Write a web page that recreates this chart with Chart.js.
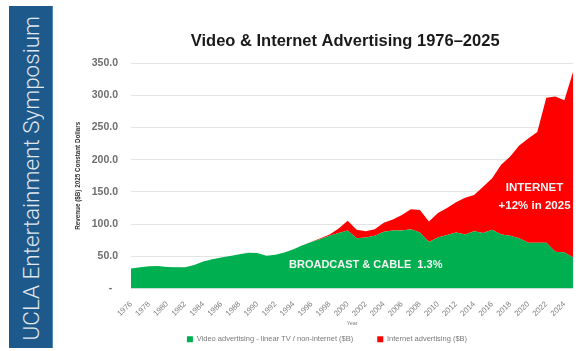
<!DOCTYPE html>
<html>
<head>
<meta charset="utf-8">
<script src="https://cdn.jsdelivr.net/npm/chart.js@4.4.1/dist/chart.umd.min.js"></script>
<style>
  html, body { margin: 0; padding: 0; background: #fff; }
  #wrap { position: relative; width: 583px; height: 351px; overflow: hidden; }
  #side {
    position: absolute; left: 9px; top: 6px; width: 43px; height: 342px;
    background: #1d5a8b; border-right: 1px solid #5286b4;
    display: flex; align-items: center; justify-content: center;
  }
  #side span {
    writing-mode: vertical-rl; transform: rotate(180deg);
    color: #e2e7ed; font: 300 22.5px Roboto, "Liberation Sans", Arial, sans-serif;
    white-space: nowrap; margin-top: 2px;
  }
  canvas { position: absolute; left: 0; top: 0; }
</style>
</head>
<body>
<div id="wrap">
  <canvas id="chart" width="583" height="351"></canvas>
  <div id="side"><span>UCLA Entertainment Symposium</span></div>
</div>
<script>
// values, $B in 2025 constant dollars
const years = [
  1976, 1977, 1978, 1979, 1980, 1981, 1982, 1983, 1984, 1985,
  1986, 1987, 1988, 1989, 1990, 1991, 1992, 1993, 1994, 1995,
  1996, 1997, 1998, 1999, 2000, 2001, 2002, 2003, 2004, 2005,
  2006, 2007, 2008, 2009, 2010, 2011, 2012, 2013, 2014, 2015,
  2016, 2017, 2018, 2019, 2020, 2021, 2022, 2023, 2024, 2025
];
const videoAds = [
  31, 33, 34.5, 35, 33.5, 33, 33, 36.5, 42, 45.5,
  48, 50.5, 53, 55.5, 55, 51, 52.5, 56, 61, 67,
  72, 77, 82, 86, 90, 78, 79, 82, 88, 90,
  90, 92, 87, 72, 79, 83, 87, 84, 89, 86,
  91, 84, 82, 78, 71, 71, 71, 57, 56, 48
];
const internetAds = [
  0, 0, 0, 0, 0, 0, 0, 0, 0, 0,
  0, 0, 0, 0, 0, 0, 0, 0, 0, 0,
  0.5, 1, 2, 7, 15, 13, 10, 10, 14, 17,
  24, 31, 35, 32, 38, 42, 47, 57, 56, 72,
  80, 108, 123, 144, 162, 172, 225, 241, 236, 290
];
const yTicks = [0, 50, 100, 150, 200, 250, 300, 350];

const chartTitle = 'Video & Internet Advertising 1976\u20132025';
// callouts: text lines anchored at (year, value)
const callouts = [
  { lines: ['BROADCAST & CABLE  1.3%'], year: 2002, value: 36, size: 11 },
  { lines: ['INTERNET', '+12% in 2025'], year: 2020.7, value: 142, size: 11.5 }
];

const FONT = '"Liberation Sans", Arial, sans-serif';

// title and callouts drawn on top of the chart
const textPlugin = {
  id: 'texts',
  afterDatasetsDraw(chart) {
    const { ctx, chartArea, scales } = chart;
    ctx.save();
    ctx.textAlign = 'center';
    ctx.textBaseline = 'middle';
    ctx.fillStyle = '#1a1a1a';
    ctx.font = 'bold 16.5px ' + FONT;
    ctx.fillText(chartTitle, (chartArea.left + chartArea.right) / 2 - 7, 41);

    ctx.fillStyle = '#f4f4f4';
    callouts.forEach(c => {
      ctx.font = 'bold ' + c.size + 'px ' + FONT;
      const x = scales.x.getPixelForValue(c.year - years[0]);
      const y = scales.y.getPixelForValue(c.value);
      const lh = c.size * 1.55;
      c.lines.forEach((t, i) => {
        ctx.fillText(t, x, y + (i - (c.lines.length - 1) / 2) * lh);
      });
    });
    ctx.restore();
  }
};

new Chart(document.getElementById('chart'), {
  type: 'line',
  data: {
    labels: years,
    datasets: [
      {
        label: 'Video advertising - linear TV / non-internet ($B)',
        data: videoAds,
        backgroundColor: '#00b050',
        borderWidth: 0,
        pointRadius: 0,
        fill: 'origin'
      },
      {
        label: 'Internet advertising ($B)',
        data: internetAds,
        backgroundColor: '#ff0000',
        borderWidth: 0,
        pointRadius: 0,
        fill: '-1'
      }
    ]
  },
  options: {
    responsive: false,
    animation: false,
    devicePixelRatio: 1,
    layout: { padding: { left: 74, right: 3, top: 63, bottom: -2 } },
    plugins: {
      title: { display: false },
      tooltip: { enabled: false },
      legend: {
        position: 'bottom',
        labels: {
          boxWidth: 6,
          boxHeight: 6,
          padding: 9,
          color: '#7a7a7a',
          font: { family: FONT, size: 7.5 },
          // wider gap between the two entries
          generateLabels(chart) {
            const items = Chart.defaults.plugins.legend.labels.generateLabels(chart);
            items[0].text += '\u2003\u2003';
            return items;
          }
        }
      }
    },
    scales: {
      x: {
        grid: { display: false, drawOnChartArea: false },
        border: { display: false },
        ticks: {
          autoSkip: false,
          maxRotation: 45,
          minRotation: 45,
          padding: 3,
          color: '#808080',
          font: { family: FONT, size: 7.8 },
          callback: (v, i) => (i % 2 === 0 ? String(years[i]) : '')
        },
        title: {
          display: true,
          text: 'Year',
          color: '#808080',
          padding: 0,
          font: { family: FONT, size: 5.5 }
        },
        afterFit(scale) { scale.height = 38; }
      },
      y: {
        stacked: true,
        min: 0,
        max: 350,
        afterBuildTicks(scale) { scale.ticks = yTicks.map(v => ({ value: v })); },
        grid: { color: '#e4e4e4', lineWidth: 1, drawTicks: false },
        border: { display: false },
        ticks: {
          padding: 13,
          color: '#6e6e6e',
          font: { family: FONT, size: 10.5, weight: 'bold' },
          callback: v => (v === 0 ? '-  ' : v.toFixed(1))
        },
        title: {
          display: true,
          text: 'Revenue ($B) 2025 Constant Dollars',
          color: '#333333',
          padding: 0,
          font: { family: FONT, size: 6.3, weight: 'bold' }
        },
        afterFit(scale) { scale.width = 57; }
      }
    }
  },
  plugins: [textPlugin]
});
</script>
</body>
</html>
